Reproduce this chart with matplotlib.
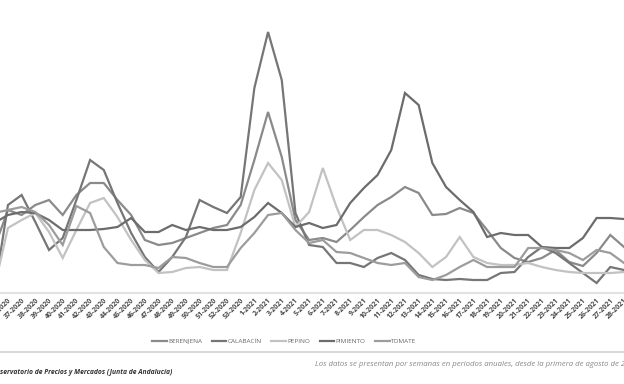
import numpy as np
import matplotlib
matplotlib.use("Agg")
import matplotlib.pyplot as plt

# weekly labels (first one sits just off the left edge of the crop)
weeks = (["35-2020"] + [f"{w}-2020" for w in range(36, 54)]
         + [f"{w}-2021" for w in range(1, 29)])

# prices (euro/kg)
berenjena = [0.45,
             0.83, 0.78, 0.88, 0.93, 0.78, 0.98, 1.10, 1.10, 0.93, 0.78, 0.53,
             0.48, 0.50, 0.55, 0.60, 0.65, 0.68, 0.88, 1.33, 1.81, 1.36, 0.73,
             0.53, 0.55, 0.51, 0.63, 0.76, 0.88, 0.96, 1.06, 1.00, 0.78, 0.79,
             0.85, 0.80, 0.63, 0.45, 0.35, 0.31, 0.35, 0.43, 0.31, 0.27, 0.40,
             0.58, 0.46]
calabacin = [0.0,
             0.88, 0.98, 0.71, 0.43, 0.55, 0.93, 1.33, 1.23, 0.90, 0.60, 0.36,
             0.21, 0.36, 0.56, 0.93, 0.86, 0.80, 0.96, 2.05, 2.61, 2.13, 0.80,
             0.48, 0.46, 0.30, 0.30, 0.26, 0.35, 0.40, 0.33, 0.18, 0.14, 0.13,
             0.14, 0.13, 0.13, 0.20, 0.21, 0.36, 0.46, 0.40, 0.30, 0.20, 0.10,
             0.26, 0.23]
pepino = [0.05,
          0.65, 0.73, 0.80, 0.61, 0.35, 0.63, 0.90, 0.95, 0.76, 0.53, 0.33,
          0.20, 0.21, 0.25, 0.26, 0.23, 0.23, 0.60, 1.03, 1.30, 1.13, 0.66,
          0.81, 1.25, 0.86, 0.53, 0.63, 0.63, 0.58, 0.51, 0.40, 0.26, 0.36,
          0.56, 0.36, 0.30, 0.28, 0.28, 0.30, 0.26, 0.23, 0.21, 0.20, 0.20,
          0.20, 0.21]
pimiento = [0.70,
            0.78, 0.81, 0.80, 0.73, 0.63, 0.63, 0.63, 0.64, 0.66, 0.75, 0.61,
            0.61, 0.68, 0.63, 0.66, 0.63, 0.63, 0.66, 0.76, 0.90, 0.80, 0.66,
            0.70, 0.65, 0.68, 0.90, 1.05, 1.18, 1.43, 2.00, 1.88, 1.30, 1.06,
            0.93, 0.81, 0.56, 0.60, 0.58, 0.58, 0.46, 0.45, 0.45, 0.55, 0.75,
            0.75, 0.74]
tomate = [0.80,
          0.83, 0.86, 0.81, 0.68, 0.48, 0.87, 0.80, 0.46, 0.30, 0.28, 0.28,
          0.25, 0.36, 0.35, 0.30, 0.26, 0.26, 0.45, 0.60, 0.78, 0.80, 0.63,
          0.50, 0.53, 0.41, 0.40, 0.35, 0.30, 0.28, 0.30, 0.16, 0.13, 0.18,
          0.26, 0.33, 0.26, 0.26, 0.26, 0.45, 0.45, 0.43, 0.40, 0.33, 0.43,
          0.40, 0.30]

series = [
    ("BERENJENA", berenjena, "#8a8a8a"),
    ("CALABACÍN", calabacin, "#767676"),
    ("PEPINO", pepino, "#c2c2c2"),
    ("PIMIENTO", pimiento, "#6c6c6c"),
    ("TOMATE", tomate, "#9c9c9c"),
]

plt.rcParams["font.family"] = ["Open Sans", "DejaVu Sans"]

fig = plt.figure(figsize=(6.24, 3.84), dpi=100)
fig.patch.set_facecolor("white")
ax = fig.add_axes([0, 91 / 384, 1, 293 / 384])

x = np.arange(len(weeks))
for name, vals, col in series:
    ax.plot(x, vals, color=col, lw=1.6, label=name, solid_joinstyle="miter")

ax.set_xlim(0.42, 45.64)
ax.set_ylim(0, 2.93)
# the 35-2020 point is off-canvas, so its label is not drawn
ax.set_xticks(x[1:])
ax.set_xticklabels(weeks[1:], rotation=45, ha="right", rotation_mode="anchor",
                   fontsize=5, fontweight="bold", color="#4a4a4a")
ax.tick_params(axis="x", length=0, pad=3)
ax.set_yticks([])
for s in ["top", "left", "right"]:
    ax.spines[s].set_visible(False)
ax.spines["bottom"].set_color("#e2e2e2")
ax.spines["bottom"].set_linewidth(1.5)

fig.legend(loc="center", bbox_to_anchor=(284 / 624, 1 - 341 / 384), ncol=5,
           frameon=False, fontsize=4.6, handlelength=2.3, handletextpad=0.2,
           columnspacing=1.5, labelcolor="#666666")

# separator line under the legend
fig.add_artist(plt.Line2D([0, 1], [1 - 352 / 384] * 2, color="#cfcfcf",
                          lw=1.2, transform=fig.transFigure))

fig.text(0.0, 1 - 372 / 384, "servatorio de Precios y Mercados (Junta de Andalucía)",
         fontsize=4.9, fontstyle="italic", fontweight="bold", color="#333333",
         va="center", ha="left")
fig.text(315 / 624, 1 - 364 / 384,
         "Los datos se presentan por semanas en periodos anuales, desde la primera de agosto de 2020",
         fontsize=5.6, fontstyle="italic", color="#888888", va="center", ha="left")

fig.savefig("out.png", dpi=100, facecolor="white")
